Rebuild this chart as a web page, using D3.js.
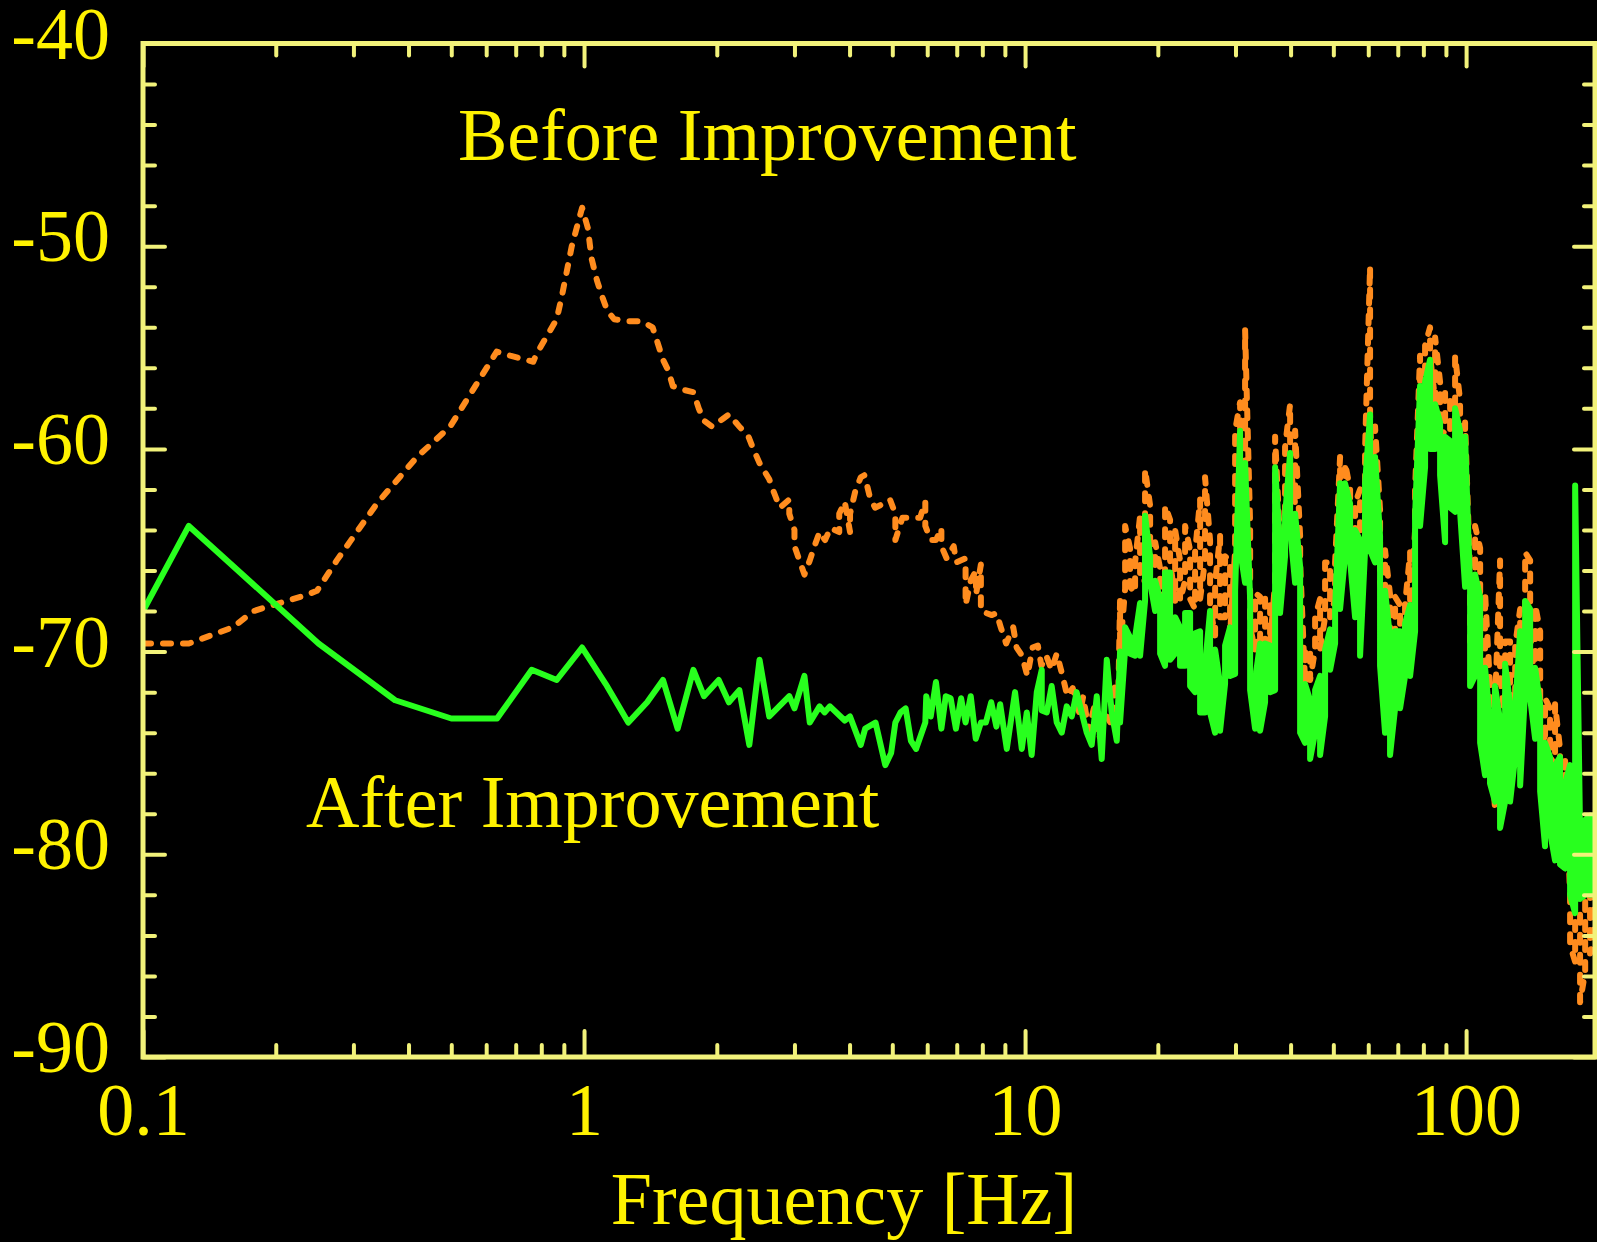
<!DOCTYPE html>
<html>
<head>
<meta charset="utf-8">
<script src="https://cdn.jsdelivr.net/npm/d3@7"></script>
<style>
  html, body { margin: 0; padding: 0; background: #000; }
  svg { display: block; }
</style>
</head>
<body>
<div id="svg_div"><svg></svg></div>
<script>
// tick values and labels
var yMajorTicks = [-90, -80, -70, -60, -50, -40];
var yMinorTicks = [-88, -86, -84, -82, -78, -76, -74, -72, -68, -66, -64, -62,
                   -58, -56, -54, -52, -48, -46, -44, -42];
var xMajorTicks = [0.1, 1, 10, 100];
var xTickLabels = ["0.1", "1", "10", "100"];
var xMinorTicks = [0.2, 0.3, 0.4, 0.5, 0.6, 0.7, 0.8, 0.9,
                   2, 3, 4, 5, 6, 7, 8, 9,
                   20, 30, 40, 50, 60, 70, 80, 90];

// "Before Improvement" (orange, dashed) - low frequency part [Hz], [dB]
var beforeFreq = [0.1, 0.127, 0.160, 0.178, 0.212, 0.235, 0.248, 0.275, 0.339, 0.418,
  0.497, 0.634, 0.680, 0.767, 0.781, 0.867, 0.890, 0.938, 0.99, 1.02,
  1.04, 1.07, 1.10, 1.13, 1.17, 1.26, 1.35, 1.43, 1.47, 1.51,
  1.55, 1.59, 1.69, 1.77, 1.82, 1.87, 1.95, 2.07, 2.13, 2.25,
  2.36, 2.42, 2.50, 2.63, 2.69, 2.78, 2.92, 2.92, 3.00, 3.00,
  3.08, 3.16, 3.25, 3.33, 3.42, 3.52, 3.62, 3.79, 3.79, 3.90,
  4.01, 4.01, 4.12, 4.24, 4.32, 4.36, 4.45, 4.57, 4.78, 4.94,
  5.08, 5.08, 5.27, 5.62, 5.78, 5.94, 5.94, 6.11, 6.28, 6.46,
  6.46, 6.64, 6.89, 6.98, 7.33, 7.33, 7.53, 7.74, 7.74, 7.94,
  7.94, 8.41, 8.61, 8.81, 9.06, 9.40, 9.57, 9.84, 10.12, 10.40,
  10.69, 10.89, 11.17, 11.48, 11.80, 12.13, 12.47, 12.82, 13.30, 13.55,
  13.93, 14.32, 14.72, 15.32, 15.72, 16.00, 16.28];
var beforeDb = [-69.6, -69.6, -68.8, -68.0, -67.5, -67.2, -67.0, -65.5, -62.7, -60.4,
  -58.9, -55.2, -55.4, -55.7, -55.3, -53.6, -52.5, -50.0, -48.1, -49.1,
  -50.6, -51.7, -52.5, -53.2, -53.6, -53.7, -53.7, -54.0, -54.8, -55.6,
  -56.1, -56.9, -57.1, -57.2, -58.0, -58.6, -58.9, -58.5, -58.3, -58.9,
  -59.4, -60.0, -60.7, -61.5, -62.1, -62.9, -62.5, -63.2, -64.0, -64.8,
  -65.5, -66.2, -65.5, -64.8, -64.1, -64.5, -63.9, -64.1, -63.2, -62.6,
  -64.1, -63.2, -62.1, -61.4, -61.3, -61.6, -62.4, -62.9, -62.7, -62.5,
  -63.2, -64.5, -63.4, -63.4, -63.4, -62.6, -63.8, -64.5, -64.5, -63.9,
  -64.8, -65.4, -64.8, -65.6, -65.4, -67.7, -66.5, -66.0, -67.2, -65.7,
  -68.0, -68.2, -68.1, -68.8, -69.6, -68.8, -69.8, -70.2, -71.2, -69.8,
  -69.7, -70.7, -70.2, -70.9, -70.1, -71.1, -72.2, -71.8, -73.1, -72.2,
  -73.9, -72.8, -74.3, -73.2, -73.6, -71.6, -71.9];

// "After Improvement" (green, solid) - low frequency part [Hz], [dB]
var afterFreq = [0.1, 0.127, 0.25, 0.373, 0.50, 0.635, 0.761, 0.867, 0.99, 1.12,
  1.26, 1.39, 1.51, 1.63, 1.77, 1.87, 2.02, 2.13, 2.25, 2.37,
  2.50, 2.63, 2.92, 3.00, 3.16, 3.25, 3.42, 3.51, 3.61, 3.90,
  4.01, 4.24, 4.34, 4.58, 4.82, 4.97, 5.08, 5.22, 5.36, 5.51,
  5.66, 5.94, 5.97, 6.11, 6.28, 6.46, 6.61, 6.78, 6.97, 7.16,
  7.33, 7.53, 7.73, 7.94, 8.15, 8.38, 8.61, 8.78, 9.09, 9.49,
  9.83, 10.09, 10.35, 10.63, 10.91, 10.91, 11.20, 11.49, 11.80, 12.11,
  12.43, 12.76, 13.09, 13.44, 13.80, 14.16, 14.54, 14.92, 15.32, 15.72,
  16.14];
var afterDb = [-68.0, -63.8, -69.6, -72.4, -73.3, -73.3, -70.9, -71.4, -69.8, -71.6,
  -73.5, -72.5, -71.4, -73.8, -70.9, -72.2, -71.4, -72.5, -71.9, -74.6,
  -70.4, -73.2, -72.2, -72.8, -71.2, -73.5, -72.7, -73.0, -72.7, -73.4,
  -73.2, -74.6, -73.8, -73.5, -75.6, -75.0, -73.5, -73.0, -72.8, -74.4,
  -74.8, -73.5, -72.2, -73.2, -71.5, -73.8, -72.2, -72.3, -73.8, -72.3,
  -73.5, -72.2, -74.3, -73.5, -73.5, -72.5, -73.7, -72.6, -74.8, -72.0,
  -74.8, -73.0, -75.1, -72.0, -70.9, -72.9, -73.0, -71.7, -73.5, -74.0,
  -72.7, -73.2, -72.0, -73.0, -74.0, -74.6, -72.2, -75.3, -70.4, -73.0,
  -74.4];

// dense part above ~16 Hz: per column, top and bottom of each trace [dB]
var bandFreq = [16.42, 16.86, 17.30, 17.76, 18.23, 18.71, 19.21, 19.72, 20.24, 20.77,
  21.32, 21.89, 22.46, 23.06, 23.67, 24.29, 24.94, 25.59, 26.27, 26.97,
  27.68, 28.41, 29.16, 29.94, 30.73, 31.54, 32.38, 33.23, 34.11, 35.01,
  35.94, 36.89, 37.86, 38.86, 39.90, 40.95, 42.04, 43.15, 44.29, 45.46,
  46.66, 47.89, 49.16, 50.46, 51.79, 53.16, 54.57, 56.01, 57.49, 59.01,
  60.57, 62.17, 63.81, 65.50, 67.23, 69.02, 70.84, 72.71, 74.65, 76.61,
  78.63, 80.72, 82.85, 85.06, 87.30, 89.61, 91.99, 94.41, 96.90, 99.47,
  102.1, 104.8, 107.6, 110.4, 113.3, 116.3, 119.4, 122.6, 125.8, 129.2,
  132.6, 136.1, 139.7, 143.4, 147.2, 151.0, 155.0, 159.1, 163.3, 167.7,
  172.1, 176.7, 181.3, 186.2, 191.0, 195.1];
var beforeHi = [-67.5, -63.8, -64.9, -65.6, -63.3, -61.0, -62.8, -64.6, -65.9, -62.8,
  -63.5, -64.0, -65.5, -63.8, -65.0, -65.1, -62.5, -61.4, -64.5, -66.6,
  -64.3, -65.3, -65.5, -59.1, -57.7, -54.1, -63.7, -67.1, -67.3, -67.3,
  -67.6, -59.4, -64.6, -59.9, -57.8, -59.1, -64.3, -69.9, -69.9, -68.3,
  -67.4, -65.6, -65.6, -65.6, -60.4, -60.7, -62.0, -62.7, -62.0, -60.0,
  -51.0, -58.9, -63.0, -65.0, -67.2, -67.3, -67.7, -67.7, -65.1, -62.0,
  -55.4, -54.9, -54.0, -54.5, -56.7, -57.2, -57.4, -55.4, -57.6, -58.7,
  -66.2, -63.8, -64.9, -67.1, -71.7, -72.6, -65.5, -69.5, -69.5, -69.7,
  -67.9, -65.1, -65.5, -67.7, -69.0, -72.3, -72.8, -72.6, -74.8, -75.4,
  -82.0, -83.3, -82.9, -82.2, -81.8, -82.0];
var beforeLo = [-70.0, -66.9, -66.8, -67.1, -66.5, -66.5, -65.1, -66.0, -67.3, -67.1,
  -65.5, -67.5, -67.5, -66.5, -67.4, -67.9, -67.4, -65.5, -67.8, -69.2,
  -68.3, -68.3, -69.2, -65.0, -63.7, -63.0, -68.8, -69.9, -69.9, -69.4,
  -69.6, -66.6, -66.6, -63.3, -60.7, -62.7, -65.6, -71.6, -71.4, -69.9,
  -69.9, -68.3, -68.3, -67.4, -66.6, -65.3, -64.2, -66.6, -65.0, -65.0,
  -58.4, -65.0, -66.6, -68.3, -70.5, -69.7, -69.5, -69.5, -68.2, -64.0,
  -60.2, -58.5, -55.4, -57.6, -59.4, -59.1, -59.1, -59.1, -59.6, -60.9,
  -69.5, -67.7, -70.1, -71.2, -73.4, -77.8, -71.2, -73.4, -73.0, -73.0,
  -71.7, -69.0, -69.0, -71.7, -73.4, -74.5, -75.2, -75.6, -76.7, -77.4,
  -84.5, -85.3, -87.3, -85.8, -84.9, -84.0];
var afterHi = [-70.0, -68.8, -69.3, -69.3, -67.6, -63.3, -65.3, -66.5, -67.4, -66.1,
  -66.1, -68.3, -68.8, -68.1, -68.1, -69.1, -69.0, -70.7, -68.0, -69.9,
  -71.6, -69.7, -68.8, -67.0, -59.1, -60.7, -67.4, -71.4, -69.6, -69.6,
  -69.7, -60.9, -64.8, -63.3, -60.2, -63.2, -65.8, -71.6, -72.4, -71.9,
  -71.2, -69.9, -68.9, -67.9, -61.7, -61.7, -62.7, -64.0, -64.5, -61.7,
  -58.3, -60.4, -64.3, -67.0, -69.3, -69.0, -69.0, -68.6, -67.7, -63.3,
  -56.9, -56.7, -55.6, -57.8, -58.7, -59.4, -59.6, -58.0, -59.1, -59.4,
  -66.8, -66.2, -67.3, -70.8, -73.4, -71.7, -73.4, -70.6, -72.6, -72.8,
  -69.0, -67.5, -67.9, -70.8, -72.6, -74.5, -75.2, -75.6, -75.2, -76.5,
  -75.6, -61.8, -78.9, -78.3, -78.1, -78.3];
var afterLo = [-73.5, -69.9, -70.1, -70.2, -70.2, -67.5, -66.6, -68.0, -70.1, -70.7,
  -70.4, -70.1, -70.7, -70.7, -71.7, -72.0, -73.0, -73.0, -73.0, -74.0,
  -73.9, -71.6, -71.2, -71.1, -65.0, -66.6, -71.9, -73.8, -73.9, -72.5,
  -72.0, -71.9, -68.1, -65.3, -64.0, -66.6, -74.0, -74.5, -75.3, -74.0,
  -75.1, -73.2, -70.9, -69.6, -67.9, -65.3, -65.5, -68.3, -70.2, -65.0,
  -65.0, -65.6, -70.7, -74.0, -75.1, -72.8, -72.8, -71.2, -71.2, -69.0,
  -63.8, -60.9, -60.0, -60.0, -61.3, -64.6, -62.9, -63.1, -63.1, -66.8,
  -71.7, -71.2, -74.5, -76.1, -76.5, -77.4, -78.7, -77.4, -77.4, -75.2,
  -76.6, -71.9, -72.3, -74.3, -76.9, -79.6, -78.9, -80.3, -80.5, -80.7,
  -82.0, -82.9, -82.2, -82.0, -82.0, -80.0];

var w = 1597, h = 1242;
var plotLeft = 143, plotRight = 1595, plotTop = 43.5, plotBottom = 1057;
var axisColor = "#f2f27a";
var textColor = "#fff200";
var fontFamily = "'Liberation Serif', 'Times New Roman', serif";

var svg = d3.select("#svg_div").select("svg")
            .attr("width", w)
            .attr("height", h);

svg.append("rect")
   .attr("width", w)
   .attr("height", h)
   .attr("fill", "#000");

var xScale = d3.scaleLog()
               .domain([0.1, 196])
               .range([plotLeft, plotRight]);
var yScale = d3.scaleLinear()
               .domain([-90, -40])
               .range([plotBottom, plotTop]);

svg.append("clipPath")
   .attr("id", "plotClip")
   .append("rect")
   .attr("x", plotLeft)
   .attr("y", plotTop)
   .attr("width", plotRight - plotLeft)
   .attr("height", plotBottom - plotTop);

function toPoints(freq, db) {
	return freq.map(function(f, i) { return [f, db[i]]; });
}

// zig-zag through the top/bottom of each column of the dense part
function bandPoints(freq, hi, lo) {
	var pts = [];
	for (var i = 0; i < freq.length; i++) {
		if (i % 2 == 0) {
			pts.push([freq[i], hi[i]]);
			pts.push([freq[i], lo[i]]);
		} else {
			pts.push([freq[i], lo[i]]);
			pts.push([freq[i], hi[i]]);
		}
	}
	return pts;
}

var line = d3.line()
             .x(function(d) { return xScale(d[0]); })
             .y(function(d) { return yScale(d[1]); });

var beforePts = toPoints(beforeFreq, beforeDb).concat(bandPoints(bandFreq, beforeHi, beforeLo));
var afterPts = toPoints(afterFreq, afterDb).concat(bandPoints(bandFreq, afterHi, afterLo));

var plot = svg.append("g").attr("clip-path", "url(#plotClip)");

plot.append("path")
    .datum(beforePts)
    .attr("d", line)
    .attr("fill", "none")
    .attr("stroke", "#ff8c1e")
    .attr("stroke-width", 6)
    .attr("stroke-dasharray", "8,12")
    .attr("stroke-linecap", "round")
    .attr("stroke-linejoin", "round");

plot.append("path")
    .datum(afterPts)
    .attr("d", line)
    .attr("fill", "none")
    .attr("stroke", "#28ff1e")
    .attr("stroke-width", 6)
    .attr("stroke-linecap", "round")
    .attr("stroke-linejoin", "round");

// axes with inward ticks
function styleAxis(g) {
	g.select(".domain").remove();
	g.selectAll(".tick line")
	 .attr("stroke", axisColor)
	 .attr("stroke-width", 4)
	 .attr("stroke-linecap", "round");
	g.selectAll("text")
	 .attr("fill", textColor)
	 .attr("font-family", fontFamily)
	 .attr("font-size", "74px");
}

svg.append("g")
   .attr("transform", "translate(" + plotLeft + ",0)")
   .call(d3.axisLeft(yScale).tickValues(yMajorTicks).tickSizeInner(-22).tickSizeOuter(0)
           .tickPadding(33).tickFormat(function(d) { return d; }))
   .call(styleAxis)
   .selectAll("text")
   .attr("dy", null)
   .attr("y", 14.5);
svg.append("g")
   .attr("transform", "translate(" + plotLeft + ",0)")
   .call(d3.axisLeft(yScale).tickValues(yMinorTicks).tickSizeInner(-12).tickSizeOuter(0).tickFormat(""))
   .call(styleAxis);
svg.append("g")
   .attr("transform", "translate(" + plotRight + ",0)")
   .call(d3.axisRight(yScale).tickValues(yMajorTicks).tickSizeInner(-21).tickSizeOuter(0).tickFormat(""))
   .call(styleAxis);
svg.append("g")
   .attr("transform", "translate(" + plotRight + ",0)")
   .call(d3.axisRight(yScale).tickValues(yMinorTicks).tickSizeInner(-11).tickSizeOuter(0).tickFormat(""))
   .call(styleAxis);

svg.append("g")
   .attr("transform", "translate(0," + plotBottom + ")")
   .call(d3.axisBottom(xScale).tickValues(xMajorTicks).tickSizeInner(-26).tickSizeOuter(0)
           .tickFormat(function(d, i) { return xTickLabels[i]; }))
   .call(styleAxis)
   .selectAll("text")
   .attr("dy", null)
   .attr("y", 78);
svg.append("g")
   .attr("transform", "translate(0," + plotBottom + ")")
   .call(d3.axisBottom(xScale).tickValues(xMinorTicks).tickSizeInner(-12).tickSizeOuter(0).tickFormat(""))
   .call(styleAxis);
svg.append("g")
   .attr("transform", "translate(0," + plotTop + ")")
   .call(d3.axisTop(xScale).tickValues(xMajorTicks).tickSizeInner(-23).tickSizeOuter(0).tickFormat(""))
   .call(styleAxis);
svg.append("g")
   .attr("transform", "translate(0," + plotTop + ")")
   .call(d3.axisTop(xScale).tickValues(xMinorTicks).tickSizeInner(-12).tickSizeOuter(0).tickFormat(""))
   .call(styleAxis);

// frame
svg.append("rect")
   .attr("x", plotLeft)
   .attr("y", plotTop)
   .attr("width", plotRight - plotLeft)
   .attr("height", plotBottom - plotTop)
   .attr("fill", "none")
   .attr("stroke", axisColor)
   .attr("stroke-width", 5);

// labels
svg.append("text")
   .attr("x", 844)
   .attr("y", 1224)
   .attr("text-anchor", "middle")
   .attr("fill", textColor)
   .attr("font-family", fontFamily)
   .attr("font-size", "74px")
   .text("Frequency [Hz]");

svg.append("text")
   .attr("x", 458)
   .attr("y", 160)
   .attr("fill", textColor)
   .attr("font-family", fontFamily)
   .attr("font-size", "74px")
   .text("Before Improvement");

svg.append("text")
   .attr("x", 306)
   .attr("y", 827)
   .attr("fill", textColor)
   .attr("font-family", fontFamily)
   .attr("font-size", "74px")
   .text("After Improvement");
</script>
</body>
</html>
